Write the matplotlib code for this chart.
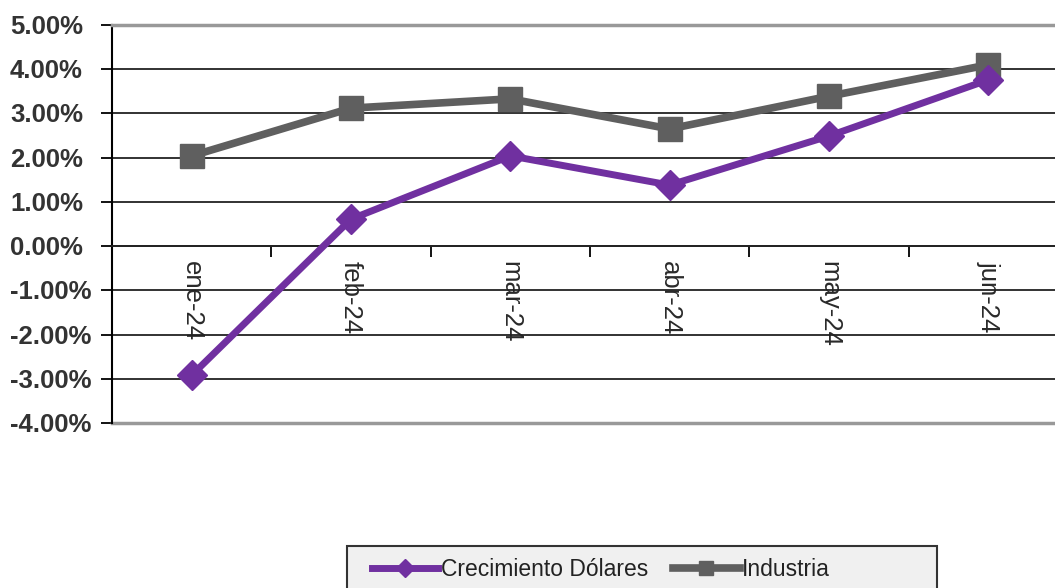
import numpy as np
import matplotlib.pyplot as plt
import matplotlib.transforms as mtransforms
from matplotlib.ticker import FixedLocator
from matplotlib.patches import Rectangle

plt.rcParams['font.family'] = ['Liberation Sans', 'DejaVu Sans']

# data (percent)
meses = ['ene-24', 'feb-24', 'mar-24', 'abr-24', 'may-24', 'jun-24']
crecimiento = [-2.92, 0.61, 2.04, 1.38, 2.49, 3.76]
industria = [2.04, 3.12, 3.33, 2.65, 3.39, 4.10]
yticks = [5, 4, 3, 2, 1, 0, -1, -2, -3, -4]

purple = '#7030a0'
gray = '#5f5f5f'
txt = '#333333'

fig = plt.figure(figsize=(10.55, 5.88), dpi=100)
ax = fig.add_axes([112/1055, 1 - 423/588, (1068 - 112)/1055, (423 - 25)/588])

x = np.arange(len(meses))
ax.plot(x, industria, color=gray, lw=5.5, marker='s', ms=17,
        mec=gray, mfc=gray, label='Industria', zorder=3)
ax.plot(x, crecimiento, color=purple, lw=5, marker='D', ms=15,
        mec=purple, mfc=purple, label='Crecimiento Dólares', zorder=4)

ax.set_xlim(-0.5, 5.5)
ax.set_ylim(-4, 5)

# y axis: ticks from the axis, labels left aligned like the original
ax.set_yticks(yticks)
ax.set_yticklabels([])
ax.tick_params(axis='y', direction='out', length=8, width=1.3, color='black')
ax.yaxis.grid(True, color='#222222', lw=1.3)
ax.set_axisbelow(True)
lab_tr = mtransforms.blended_transform_factory(fig.transFigure, ax.transData)
lab_tr = mtransforms.offset_copy(lab_tr, fig=fig, y=-2, units='dots')
for v in yticks:
    ax.text(10/1055, v, '%.2f%%' % v, transform=lab_tr, ha='left', va='center',
            fontsize=18.5, fontweight='bold', color=txt, clip_on=False)

# x axis crossing at zero
ax.spines['bottom'].set_position(('data', 0))
ax.spines['bottom'].set_color('#222222')
ax.spines['bottom'].set_linewidth(1.3)
ax.xaxis.set_major_locator(FixedLocator(np.arange(-0.5, 6.0, 1.0)))
ax.xaxis.set_major_formatter(plt.NullFormatter())
ax.set_xticks(x, minor=True)
ax.set_xticklabels(meses, minor=True, rotation=-90, fontsize=18.5,
                   color='#2a2a2a', va='top', ha='center')
ax.tick_params(axis='x', which='major', direction='out', length=8,
               width=1.3, color='black')
ax.tick_params(axis='x', which='minor', length=0, pad=11)

ax.spines['left'].set_color('black')
ax.spines['left'].set_linewidth(1.5)
ax.spines['top'].set_color('#999999')
ax.spines['top'].set_linewidth(2.5)
ax.spines['right'].set_color('#999999')
ax.spines['right'].set_linewidth(2.5)
ax.axhline(-4, color='#999999', lw=2.5, zorder=2, clip_on=False)

# legend box
fig.patches.append(Rectangle((347/1055, -0.05), (937 - 347)/1055, 0.05 + 42/588,
                             transform=fig.transFigure, facecolor='#f0f0f0',
                             edgecolor='#333333', lw=1.5, zorder=0))
handles, labels = ax.get_legend_handles_labels()
leg = fig.legend(handles[::-1], labels[::-1], loc='center left',
                 bbox_to_anchor=(372/1055, 1 - 570/588), ncol=2,
                 fontsize=16.5, frameon=False, borderaxespad=0, borderpad=0,
                 handlelength=2.9, handletextpad=0.1, columnspacing=1.1,
                 markerscale=0.6)
for t in leg.get_texts():
    t.set_color('#222222')

fig.savefig('out.png', dpi=100)
